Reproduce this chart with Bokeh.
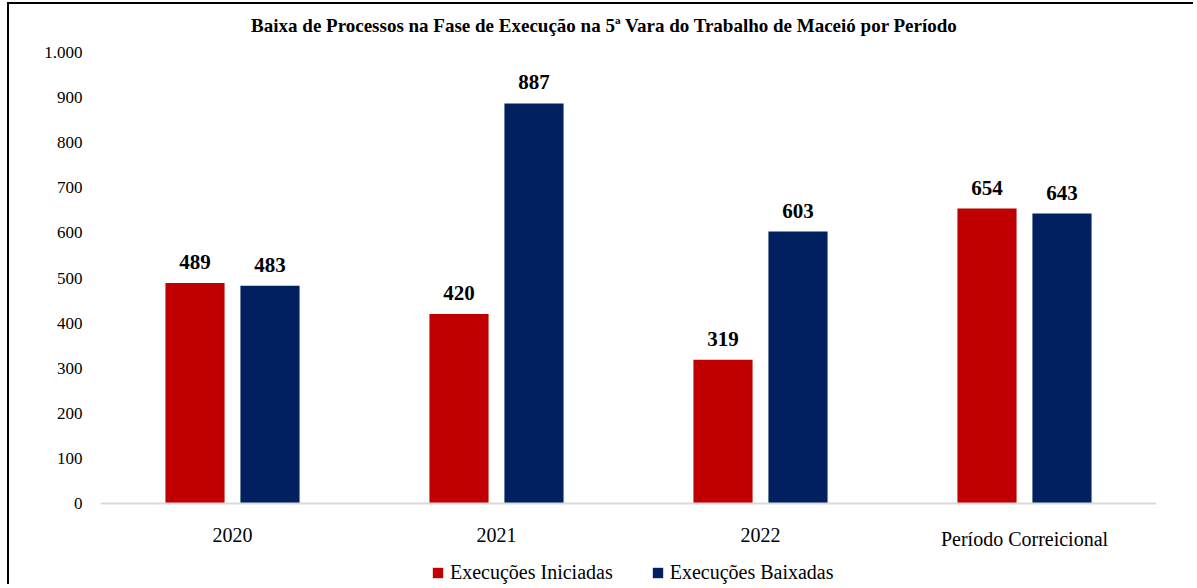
from bokeh.plotting import figure
from bokeh.models import (ColumnDataSource, FactorRange, FixedTicker, Legend, LegendItem,
                          Label, Span, Range1d)
from bokeh.transform import dodge
from bokeh.core.properties import value
from bokeh.embed import file_html
from bokeh.resources import INLINE

categories = ["2020", "2021", "2022", "Período Correicional"]
iniciadas = [489, 420, 319, 654]
baixadas = [483, 887, 603, 643]
series_names = ["Execuções Iniciadas", "Execuções Baixadas"]
y_ticks = [0, 100, 200, 300, 400, 500, 600, 700, 800, 900, 1000]
y_tick_labels = ["0", "100", "200", "300", "400", "500", "600", "700", "800", "900", "1.000"]
title_text = "Baixa de Processos na Fase de Execução na 5ª Vara do Trabalho de Maceió por Período"

RED = "#C00000"
NAVY = "#002060"
FONT = "Liberation Serif"

src = ColumnDataSource(dict(
    cat=categories,
    ini=iniciadas,
    bai=baixadas,
    ini_lbl=[str(v) for v in iniciadas],
    bai_lbl=[str(v) for v in baixadas],
    zero=[0] * len(categories),
))

# layout: canvas 582 px tall; zero line 499 px from the top; 451 px per 1000 units
H = 582
zero_px = 499
px_per_unit = 451 / 1000
y_max = zero_px / px_per_unit
y_min = -(H - zero_px) / px_per_unit

p = figure(
    width=1186, height=H,
    x_range=FactorRange(*categories, range_padding=0),
    y_range=Range1d(y_min, y_max),
    output_backend="svg", toolbar_location=None,
    min_border_left=91, min_border_right=39, min_border_top=0, min_border_bottom=0,
    styles={"border-top": "2px solid black", "border-left": "2px solid black",
            "margin-left": "7px", "margin-top": "2px"},
)
p.x_range.factor_padding = 0
p.x_range.range_padding = 0

title = Label(x=1.909, y=(zero_px - 21) / px_per_unit, text=title_text,
              text_align="center", text_baseline="middle",
              text_font=FONT, text_font_size="19px", text_font_style="bold",
              text_color="black")
p.add_layout(title)

off = 0.142
w = 0.224
r1 = p.vbar(x=dodge("cat", -off, range=p.x_range), top="ini", width=w, source=src,
            fill_color=RED, line_color=None)
r2 = p.vbar(x=dodge("cat", off, range=p.x_range), top="bai", width=w, source=src,
            fill_color=NAVY, line_color=None)

p.text(x=dodge("cat", -off, range=p.x_range), y="ini", text="ini_lbl", source=src,
       text_align="center", text_baseline="bottom", y_offset=-14,
       text_font=value(FONT), text_font_size="21px", text_font_style="bold", text_color="black")
p.text(x=dodge("cat", off, range=p.x_range), y="bai", text="bai_lbl", source=src,
       text_align="center", text_baseline="bottom", y_offset=-14,
       text_font=value(FONT), text_font_size="21px", text_font_style="bold", text_color="black")

# category labels under the zero line
p.text(x="cat", y="zero", text="cat", source=src,
       text_align="center", text_baseline="top", y_offset=24,
       text_font=value(FONT), text_font_size="20px", text_color="black")

baseline = Span(location=0, dimension="width", line_color="#d9d9d9", line_width=2)
p.add_layout(baseline)

p.xgrid.grid_line_color = None
p.ygrid.grid_line_color = None
p.outline_line_color = None
p.xaxis.visible = False

p.yaxis.ticker = FixedTicker(ticks=y_ticks)
p.yaxis.major_label_overrides = {t_: l for t_, l in zip(y_ticks, y_tick_labels)}
p.yaxis.axis_line_color = None
p.yaxis.major_tick_line_color = None
p.yaxis.minor_tick_line_color = None
p.yaxis.major_tick_out = 0
p.yaxis.major_label_standoff = 18
p.yaxis.major_label_text_font = FONT
p.yaxis.major_label_text_font_size = "17px"
p.yaxis.major_label_text_color = "black"

legend = Legend(
    items=[LegendItem(label=series_names[0], renderers=[r1]),
           LegendItem(label=series_names[1], renderers=[r2])],
    orientation="horizontal", location=(331, 2),
    border_line_color=None, background_fill_alpha=0,
    padding=0, margin=0, spacing=38, label_standoff=6,
    glyph_width=13, glyph_height=13,
    label_text_font=FONT, label_text_font_size="20px", label_text_color="black",
)
p.add_layout(legend, "center")

p.background_fill_color = "white"
p.border_fill_color = "white"

open("out.html", "w").write(file_html(p, INLINE))
